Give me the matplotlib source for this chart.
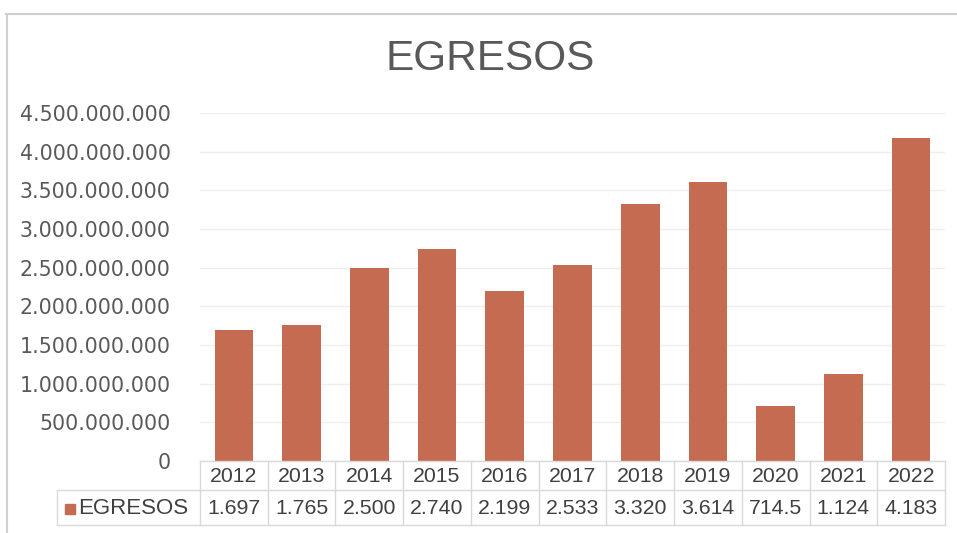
import matplotlib
matplotlib.use("Agg")
import matplotlib.pyplot as plt
from matplotlib.lines import Line2D
from matplotlib.patches import Rectangle
import numpy as np

years = ["2012", "2013", "2014", "2015", "2016", "2017", "2018", "2019", "2020", "2021", "2022"]
values = [1697e6, 1765e6, 2500e6, 2740e6, 2199e6, 2533e6, 3320e6, 3614e6, 714.5e6, 1124e6, 4183e6]
table_labels = ["1.697", "1.765", "2.500", "2.740", "2.199", "2.533", "3.320", "3.614", "714.5", "1.124", "4.183"]
yticks = [0, 500e6, 1000e6, 1500e6, 2000e6, 2500e6, 3000e6, 3500e6, 4000e6, 4500e6]
series_name = "EGRESOS"
title = "EGRESOS"

W, H = 957, 533
fig = plt.figure(figsize=(W / 100, H / 100), dpi=100)
fig.patch.set_facecolor("white")

def fx(px):
    return px / W

def fy(py):
    return 1 - py / H

left_px, right_px, top_px, bottom_px = 200, 945, 113, 461
ax = fig.add_axes([fx(left_px), fy(bottom_px), fx(right_px - left_px), (bottom_px - top_px) / H])

bar_color = "#C46B51"
text_color = "#595959"
grid_color = "#EFEFEF"
line_color = "#D9D9D9"

x = np.arange(len(years))
ax.bar(x, values, width=0.57, color=bar_color, zorder=3)
ax.set_xlim(-0.5, len(years) - 0.5)
ax.set_ylim(0, 4.5e9)
ax.set_yticks(yticks)
ax.set_yticklabels([f"{int(v):,}".replace(",", ".") for v in yticks],
                   fontsize=14.8, color=text_color, family="DejaVu Sans")
ax.tick_params(axis="y", length=0, pad=21)
ax.set_xticks([])
ax.grid(axis="y", color=grid_color, linewidth=1, zorder=0)
for s in ax.spines.values():
    s.set_visible(False)

# Title
fig.text(fx(490), fy(59), title, ha="center", va="center", fontsize=30.5,
         color=text_color, family="Liberation Sans")

# Data table
row1_top, row1_bot, row2_bot = 461, 490, 525
table_left = 57
bounds = np.arange(len(years) + 1) - 0.5
tr = ax.transData
inv = fig.transFigure.inverted()
for i, b in enumerate(bounds):
    xp = inv.transform(tr.transform((b, 0)))[0]
    fig.add_artist(Line2D([xp, xp], [fy(row1_top), fy(row2_bot)], color=line_color, lw=1))
xr = inv.transform(tr.transform((bounds[-1], 0)))[0]
xl = inv.transform(tr.transform((bounds[0], 0)))[0]
fig.add_artist(Line2D([xl, xr], [fy(row1_top), fy(row1_top)], color=line_color, lw=1))
fig.add_artist(Line2D([fx(table_left), xr], [fy(row1_bot), fy(row1_bot)], color=line_color, lw=1))
fig.add_artist(Line2D([fx(table_left), xr], [fy(row2_bot), fy(row2_bot)], color=line_color, lw=1))
fig.add_artist(Line2D([fx(table_left), fx(table_left)], [fy(row1_bot), fy(row2_bot)], color=line_color, lw=1))

for i, (yr, lab) in enumerate(zip(years, table_labels)):
    xp = inv.transform(tr.transform((i, 0)))[0]
    fig.text(xp, fy(476), yr, ha="center", va="center", fontsize=15.3,
             color="#404040", family="Liberation Sans")
    fig.text(xp, fy(508), lab, ha="center", va="center", fontsize=15.3,
             color="#404040", family="Liberation Sans")

fig.add_artist(Rectangle((fx(65), fy(514)), fx(10), 10 / H, color=bar_color))
fig.text(fx(78), fy(508), series_name, ha="left", va="center", fontsize=16,
         color="#404040", family="Liberation Sans")

# Outer chart border
fig.add_artist(Line2D([fx(6), 1], [fy(14), fy(14)], color="#D0D0D0", lw=1.5))
fig.add_artist(Line2D([fx(7), fx(7)], [fy(14), 0], color="#D0D0D0", lw=1.5))

fig.savefig("out.png", dpi=100)
